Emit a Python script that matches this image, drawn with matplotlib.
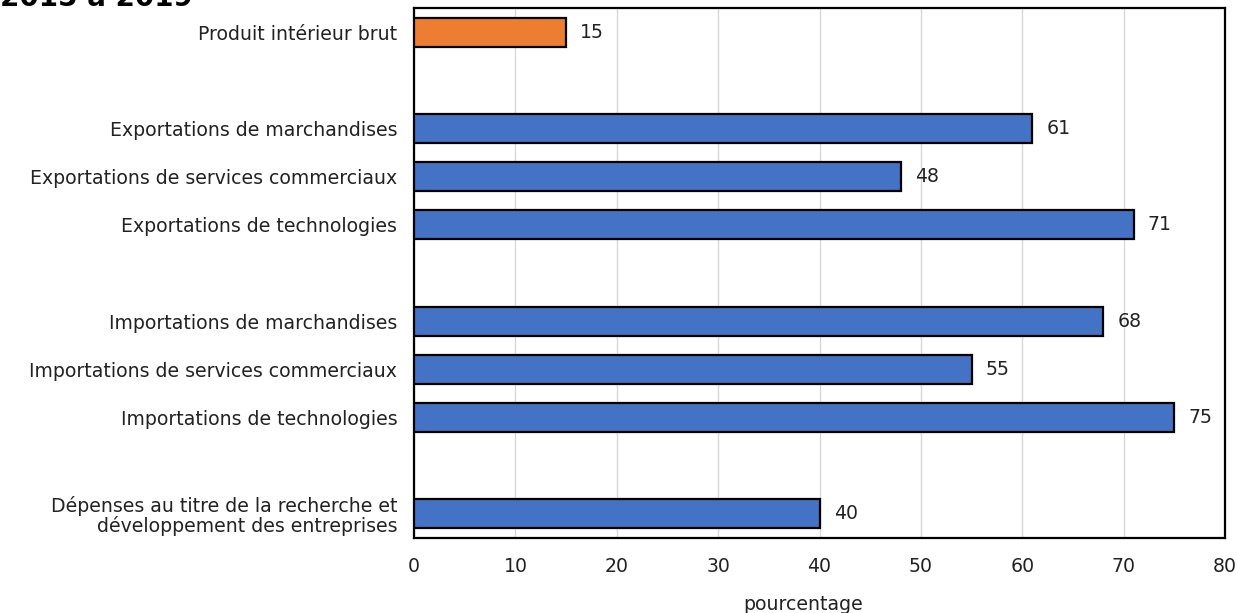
import matplotlib
matplotlib.use("Agg")
from matplotlib import pyplot as plt

# categories and values (pourcentage)
categories = [
    "Produit intérieur brut",
    "Exportations de marchandises",
    "Exportations de services commerciaux",
    "Exportations de technologies",
    "Importations de marchandises",
    "Importations de services commerciaux",
    "Importations de technologies",
    "Dépenses au titre de la recherche et\ndéveloppement des entreprises",
]
values = [15, 61, 48, 71, 68, 55, 75, 40]
# row slots, gaps between groups
slots = [0, 2, 3, 4, 6, 7, 8, 10]
colors = ["#ED7D31"] + ["#4472C4"] * 7
xticks = [0, 10, 20, 30, 40, 50, 60, 70, 80]

plt.rcParams["font.family"] = ["DejaVu Sans"]
fs = 13.6
txt = "#222222"

fig = plt.figure(figsize=(12.38, 6.13), dpi=100)
ax = fig.add_axes([414 / 1238, 1 - 538 / 613, (1225 - 414) / 1238, (538 - 8) / 613])

ax.barh(slots, values, height=0.6, color=colors, edgecolor="black", linewidth=1.6, zorder=3)
for s, v in zip(slots, values):
    ax.text(v + 1.4, s, str(v), va="center", ha="left", fontsize=fs, color=txt)

ax.set_xlim(0, 80)
ax.set_ylim(10.5, -0.5)
ax.set_xticks(xticks)
ax.set_xticklabels([str(t) for t in xticks], fontsize=fs, color=txt)
ax.set_yticks(slots)
ax.set_yticklabels(categories, fontsize=fs, color=txt, ha="right", multialignment="right", linespacing=0.98)
ax.tick_params(axis="y", length=0, pad=12)
ax.tick_params(axis="x", length=0, pad=14)
ax.grid(axis="x", color="#d9d9d9", linewidth=1, zorder=0)
for sp in ax.spines.values():
    sp.set_linewidth(1.6)
    sp.set_color("black")

fig.text(803 / 1238, 1 - 604 / 613, "pourcentage", ha="center", va="center", fontsize=fs, color=txt)
fig.text(0 / 1238, 1 - 6 / 613, "2015 à 2019", ha="left", va="baseline", fontsize=20, fontweight="bold")

fig.savefig("out.png", dpi=100)
